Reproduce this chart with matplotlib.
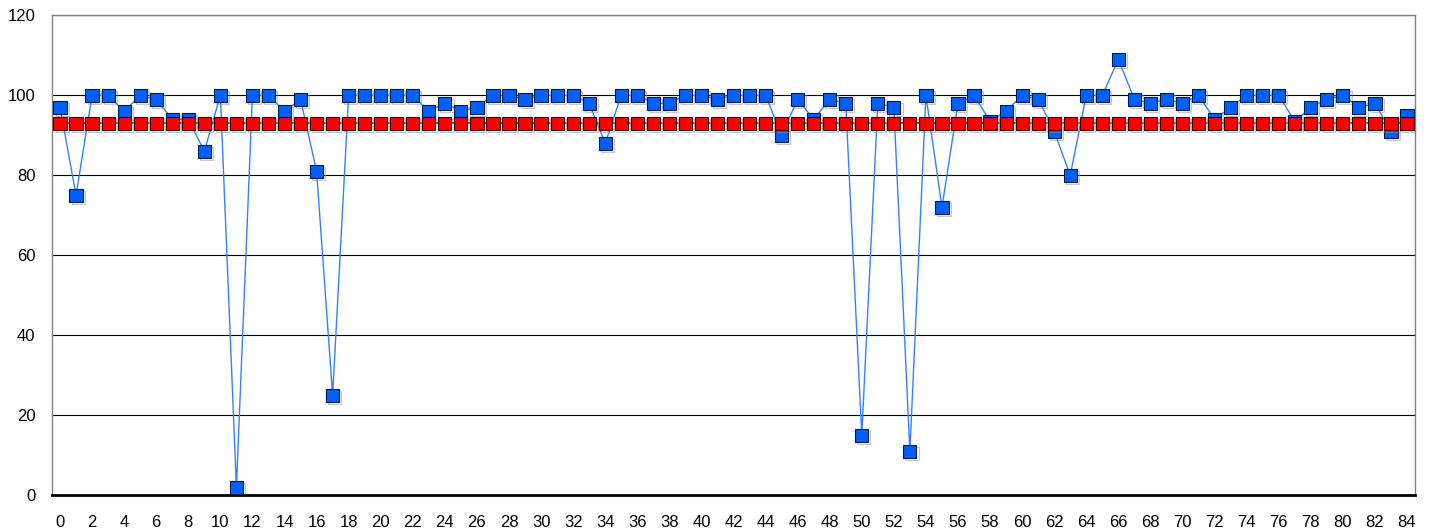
import numpy as np
import matplotlib.pyplot as plt
import matplotlib.patheffects as pe

plt.rcParams['font.family'] = ['Liberation Sans', 'DejaVu Sans']

# measured series (one value per sample index 0..84)
x = np.arange(85)
measured = [97, 75, 100, 100, 96, 100, 99, 94, 94, 86,
            100, 2, 100, 100, 96, 99, 81, 25, 100, 100,
            100, 100, 100, 96, 98, 96, 97, 100, 100, 99,
            100, 100, 100, 98, 88, 100, 100, 98, 98, 100,
            100, 99, 100, 100, 100, 90, 99, 94, 99, 98,
            15, 98, 97, 11, 100, 72, 98, 100, 93.5, 96,
            100, 99, 91, 80, 100, 100, 109, 99, 98, 99,
            98, 100, 94, 97, 100, 100, 100, 93.5, 97, 99,
            100, 97, 98, 91, 95]
target = [93] * 85

y_ticks = [0, 20, 40, 60, 80, 100, 120]
x_ticks = list(range(0, 85, 2))

fig = plt.figure(figsize=(14.34, 5.31), dpi=100)
ax = fig.add_axes([52 / 1434, (531 - 495.3) / 531, 1363 / 1434, 480 / 531])

shadow = [pe.SimpleLineShadow(offset=(1.5, -1.5), shadow_color='#909090', alpha=0.5), pe.Normal()]

# blue measured line + markers
ax.plot(x, measured, color='#3380ff', lw=1.0, zorder=3)
ax.plot(x, measured, ls='none', marker='s', ms=9.5, mfc='#0060ff', mec='#001a40',
        mew=0.8, zorder=4, path_effects=shadow)

# red target line + markers (drawn on top)
ax.plot(x, target, color='#555555', lw=1.2, zorder=5)
ax.plot(x, target, ls='none', marker='s', ms=9.5, mfc='#ff0000', mec='#330000',
        mew=0.8, zorder=6, path_effects=shadow)

ax.set_xlim(-0.5, 84.5)
ax.set_ylim(0, 120)
ax.set_yticks(y_ticks)
ax.set_xticks(x_ticks)
ax.yaxis.grid(True, color='black', lw=0.8)
ax.set_axisbelow(True)
ax.tick_params(length=0, labelsize=12)
ax.tick_params(axis='x', pad=14)
ax.tick_params(axis='y', pad=12)

for s in ['left', 'right', 'top']:
    ax.spines[s].set_color('#808080')
    ax.spines[s].set_linewidth(1.0)
ax.spines['bottom'].set_color('black')
ax.spines['bottom'].set_linewidth(2.0)

fig.savefig('out.png', dpi=100)
